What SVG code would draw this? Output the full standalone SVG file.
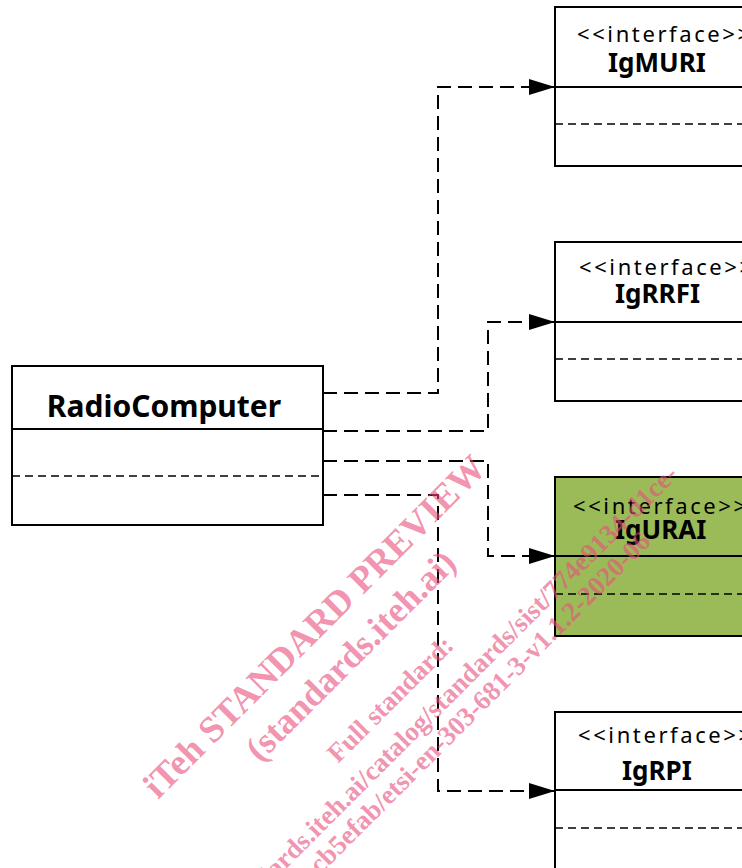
<svg xmlns="http://www.w3.org/2000/svg" width="742" height="868" viewBox="0 0 742 868">
<style>
.box{fill:#ffffff;stroke:#000;stroke-width:2}
.green{fill:#9BBB59}
.div{stroke:#000;stroke-width:2;fill:none}
.ddiv{stroke:#000;stroke-width:1.6;stroke-dasharray:8 5;fill:none}
.conn{stroke:#000;stroke-width:2;stroke-dasharray:14 7;fill:none}
.st{font-family:"Noto Sans","Open Sans","DejaVu Sans",sans-serif;font-size:22px;letter-spacing:2.6px;fill:#000}
.nm{font-family:"Noto Sans","Open Sans","DejaVu Sans",sans-serif;font-size:26px;font-weight:bold;fill:#000}
.wm{font-family:"Liberation Serif","Times New Roman",serif;font-weight:bold;fill:rgb(232,78,125);fill-opacity:0.62}
</style>
<defs>
<marker id="arr" markerUnits="userSpaceOnUse" markerWidth="26" markerHeight="16" viewBox="0 0 26 16" refX="26" refY="8" orient="auto">
<path d="M0,0 L26,8 L0,16 z" fill="#000"/>
</marker>
</defs>
<rect width="742" height="868" fill="#fff"/>

<g id="RadioComputer">
<rect class="box" x="12" y="366" width="311" height="159"/>
<line class="div" x1="12" y1="429" x2="323" y2="429"/>
<line class="ddiv" x1="12" y1="476" x2="323" y2="476"/>
<text x="164" y="417" text-anchor="middle" style="font-family:'Noto Sans','Open Sans','DejaVu Sans',sans-serif;font-size:30px;font-weight:bold">RadioComputer</text>
</g>

<g id="IgMURI">
<rect class="box" x="555" y="7" width="260" height="159"/>
<line class="div" x1="555" y1="87" x2="815" y2="87"/>
<line class="ddiv" x1="555" y1="124" x2="815" y2="124"/>
<text class="st" x="577" y="42">&lt;&lt;interface&gt;&gt;</text>
<text class="nm" x="608" y="72">IgMURI</text>
</g>

<g id="IgRRFI">
<rect class="box" x="555" y="242" width="260" height="159"/>
<line class="div" x1="555" y1="322" x2="815" y2="322"/>
<line class="ddiv" x1="555" y1="359" x2="815" y2="359"/>
<text class="st" x="579" y="275">&lt;&lt;interface&gt;&gt;</text>
<text class="nm" x="615" y="303">IgRRFI</text>
</g>

<g id="IgURAI">
<rect class="box green" x="555" y="477" width="260" height="159"/>
<line class="div" x1="555" y1="556" x2="815" y2="556"/>
<line class="ddiv" x1="555" y1="594" x2="815" y2="594"/>
<text class="st" x="573" y="514">&lt;&lt;interface&gt;&gt;</text>
<text class="nm" x="615" y="539">IgURAI</text>
</g>

<g id="IgRPI">
<rect class="box" x="555" y="712" width="260" height="170"/>
<line class="div" x1="555" y1="790" x2="815" y2="790"/>
<line class="ddiv" x1="555" y1="828" x2="815" y2="828"/>
<text class="st" x="578" y="743">&lt;&lt;interface&gt;&gt;</text>
<text class="nm" x="622" y="780">IgRPI</text>
</g>

<g id="connectors">
<path class="conn" d="M323,393 H438 V87 H555" marker-end="url(#arr)"/>
<path class="conn" d="M323,431 H488 V322 H555" marker-end="url(#arr)"/>
<path class="conn" d="M323,461 H488 V556 H555" marker-end="url(#arr)"/>
<path class="conn" d="M323,495 H438 V791 H555" marker-end="url(#arr)"/>
</g>

<g id="watermark">
<text class="wm" font-size="37" transform="translate(158,800) rotate(-45)">iTeh STANDARD PREVIEW</text>
<text class="wm" font-size="36" transform="translate(260,763) rotate(-45)">(standards.iteh.ai)</text>
<text class="wm" font-size="27" transform="translate(338,764) rotate(-45)">Full standard:</text>
<text class="wm" font-size="27" text-anchor="end" transform="translate(679,476) rotate(-45)">https://standards.iteh.ai/catalog/standards/sist/774e9134-d1ce-</text>
<text class="wm" font-size="27" text-anchor="end" transform="translate(652,543) rotate(-45)">75ecb5efab/etsi-en-303-681-3-v1.1.2-2020-06</text>
</g>
</svg>
